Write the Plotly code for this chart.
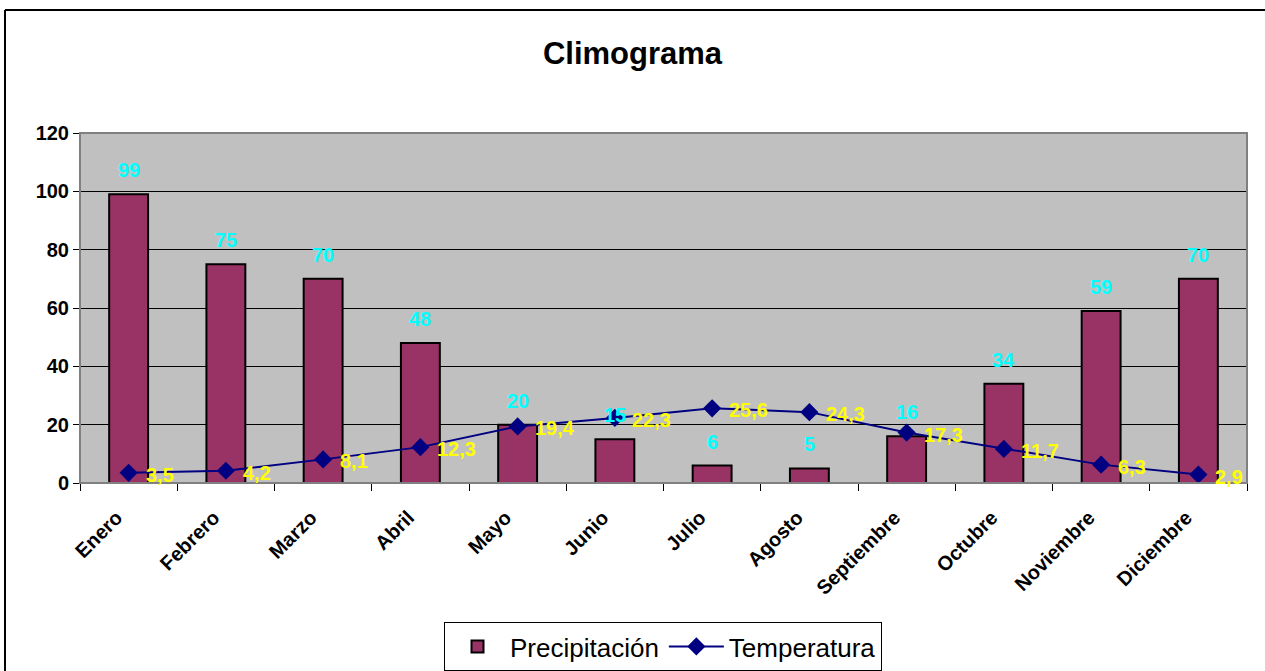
import plotly.graph_objects as go

meses = ["Enero", "Febrero", "Marzo", "Abril", "Mayo", "Junio", "Julio",
         "Agosto", "Septiembre", "Octubre", "Noviembre", "Diciembre"]
precipitacion = [99, 75, 70, 48, 20, 15, 6, 5, 16, 34, 59, 70]
temperatura = [3.5, 4.2, 8.1, 12.3, 19.4, 22.3, 25.6, 24.3, 17.3, 11.7, 6.3, 2.9]
y_ticks = [0, 20, 40, 60, 80, 100, 120]

FONT = "Arial, Liberation Sans, sans-serif"
W, H = 1265, 671
L, R, T, B = 80, 1247, 133, 483

fig = go.Figure()
fig.add_trace(go.Bar(
    x=meses, y=precipitacion, name="Precipitación",
    marker=dict(color="#993366", line=dict(color="black", width=2)),
))
fig.add_trace(go.Scatter(
    x=meses, y=temperatura, name="Temperatura", mode="lines+markers",
    line=dict(color="#000080", width=2),
    marker=dict(symbol="diamond", size=14, color="#000080"),
))

annotations = []
for m, p in zip(meses, precipitacion):
    annotations.append(dict(x=m, y=p, xref="x", yref="y", text=str(p),
                            showarrow=False, yanchor="bottom", yshift=11,
                            font=dict(family=FONT, size=20, color="#00FFFF", weight="bold")))
for m, t in zip(meses, temperatura):
    annotations.append(dict(x=m, y=t, xref="x", yref="y",
                            text=f"{t:.1f}".replace(".", ","),
                            showarrow=False, xanchor="left", xshift=15, yshift=-2,
                            font=dict(family=FONT, size=20, color="#FFFF00", weight="bold")))

pw, ph = R - L, B - T
def px(x):
    return (x - L) / pw
def py(y):
    return (B - y) / ph

shapes = [
    dict(type="rect", xref="paper", yref="paper", x0=0, y0=0, x1=1, y1=1,
         line=dict(color="#808080", width=2), layer="above"),
    dict(type="line", xref="paper", yref="paper", x0=px(5), x1=px(1265), y0=py(10), y1=py(10),
         line=dict(color="black", width=2)),
    dict(type="line", xref="paper", yref="paper", x0=px(5), x1=px(5), y0=py(10), y1=py(671),
         line=dict(color="black", width=2)),
]

fig.update_layout(
    width=W, height=H,
    margin=dict(l=L, r=W - R, t=T, b=H - B, autoexpand=False),
    paper_bgcolor="white", plot_bgcolor="#C0C0C0",
    bargap=0.6,
    title=dict(text="<b>Climograma</b>", x=0.5, xanchor="center", y=1 - 53 / H, yanchor="middle",
               font=dict(family=FONT, size=31, color="black")),
    xaxis=dict(type="category", range=[-0.5, 11.5], tickson="boundaries", ticks="outside", ticklen=7,
               tickcolor="black", tickangle=-45, showgrid=False,
               ticklabelstandoff=14, ticklabelshift=-12,
               showline=True, linecolor="black", linewidth=1,
               tickfont=dict(family=FONT, size=20, color="black", weight="bold")),
    yaxis=dict(range=[0, 120], tickvals=y_ticks, ticks="outside", ticklen=6,
               tickcolor="black", showgrid=True, gridcolor="black", gridwidth=1,
               zeroline=False, showline=True, linecolor="black", linewidth=1,
               tickfont=dict(family=FONT, size=20, color="black", weight="bold")),
    legend=dict(orientation="h", x=px(663), xanchor="center", y=py(622), yanchor="top",
                bordercolor="black", borderwidth=1, bgcolor="white", itemwidth=55,
                font=dict(family=FONT, size=26, color="black"), traceorder="normal"),
    annotations=annotations,
    shapes=shapes,
    showlegend=True,
)

fig.write_html("out.html", config={"displayModeBar": False},
               post_script="document.body.style.margin='0';")
